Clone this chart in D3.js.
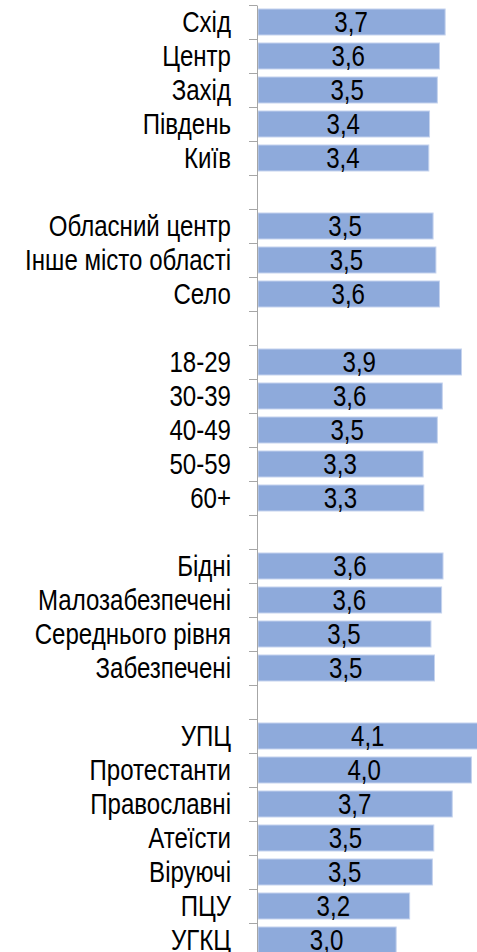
<!DOCTYPE html>
<html lang="uk">
<head>
<meta charset="utf-8">
<title>Середні оцінки</title>
<script src="https://d3js.org/d3.v7.min.js"></script>
<style>
  body { margin: 0; background: #fff; }
  .lbl { font-family: "Liberation Sans", Arial, sans-serif; font-size: 29px; fill: #000; }
  .axis path, .axis line { stroke: #a6a6a6; }
</style>
</head>
<body>
<svg width="477" height="952"></svg>
<script>
// categories in display order, groups separated by an empty slot
var categories = ["Схід", "Центр", "Захід", "Південь", "Київ",
  "Обласний центр", "Інше місто області", "Село",
  "18-29", "30-39", "40-49", "50-59", "60+",
  "Бідні", "Малозабезпечені", "Середнього рівня", "Забезпечені",
  "УПЦ", "Протестанти", "Православні", "Атеїсти", "Віруючі", "ПЦУ", "УГКЦ"];
var groupSizes = [5, 3, 5, 4, 7];
// bar lengths
var values = [3.65, 3.57, 3.54, 3.43, 3.42,
  3.48, 3.52, 3.57,
  3.88, 3.61, 3.54, 3.34, 3.35,
  3.62, 3.60, 3.45, 3.50,
  4.12, 4.02, 3.75, 3.49, 3.47, 3.15, 2.96];
// numbers printed on the bars
var shown = [3.7, 3.6, 3.5, 3.4, 3.4,
  3.5, 3.5, 3.6,
  3.9, 3.6, 3.5, 3.3, 3.3,
  3.6, 3.6, 3.5, 3.5,
  4.1, 4.0, 3.7, 3.5, 3.5, 3.2, 3.0];

var svg = d3.select("svg");
var narrow = 0.83; // squeeze text horizontally, the original uses a narrow face

// slot index for each category (one empty slot between groups)
var slots = [], s = 0;
groupSizes.forEach(function(n, gi) {
  for (var i = 0; i < n; i++) { slots.push(s); s++; }
  if (gi < groupSizes.length - 1) s++;
});
var nSlots = 28;

var data = categories.map(function(c, i) {
  return {name: c, value: values[i], shown: shown[i], slot: slots[i]};
});

var x = d3.scaleLinear().domain([1, 5]).range([257, 541]);
var yLin = d3.scaleLinear().domain([0, nSlots]).range([5, 5 + nSlots * 34]);
var y = d3.scaleBand().domain(d3.range(nSlots)).range(yLin.range()).paddingInner(0.235).paddingOuter(0.1175);

var fmt = function(v) { return d3.format(".1f")(v).replace(".", ","); };

svg.selectAll(".bar")
  .data(data)
  .enter().append("rect")
    .attr("class", "bar")
    .attr("x", x(1) + 1)
    .attr("y", function(d) { return y(d.slot); })
    .attr("width", function(d) { return x(d.value) - x(1) - 1; })
    .attr("height", y.bandwidth())
    .attr("fill", "#8eaadb")
    .attr("stroke", "#c5d3ee")
    .attr("stroke-width", 1);

svg.selectAll(".val")
  .data(data)
  .enter().append("text")
    .attr("class", "lbl val")
    .attr("transform", function(d) {
      return "translate(" + (x(1) + x(d.value)) / 2 + "," + (y(d.slot) + y.bandwidth() / 2) + ") scale(" + narrow + ",1)";
    })
    .attr("dy", "0.36em")
    .attr("text-anchor", "middle")
    .text(function(d) { return fmt(d.shown); });

svg.selectAll(".cat")
  .data(data)
  .enter().append("text")
    .attr("class", "lbl cat")
    .attr("transform", function(d) {
      return "translate(231," + (y(d.slot) + y.bandwidth() / 2) + ") scale(" + narrow + ",1)";
    })
    .attr("dy", "0.36em")
    .attr("text-anchor", "end")
    .text(function(d) { return d.name; });

svg.append("g")
  .attr("class", "axis")
  .attr("transform", "translate(" + x(1) + ",0)")
  .call(d3.axisLeft(yLin).tickValues(d3.range(0, nSlots + 1)).tickSize(8).tickSizeOuter(0).tickFormat(""));
</script>
</body>
</html>
